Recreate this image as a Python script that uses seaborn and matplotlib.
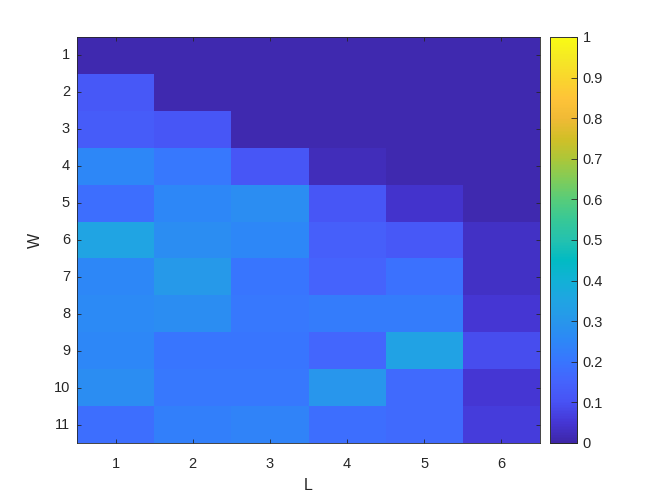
import matplotlib
matplotlib.use("Agg")
import matplotlib.pyplot as plt
import seaborn as sns
import pandas as pd
from matplotlib.colors import LinearSegmentedColormap

# values (rows W = 1..11, columns L = 1..6)
w_labels = [1, 2, 3, 4, 5, 6, 7, 8, 9, 10, 11]
l_labels = [1, 2, 3, 4, 5, 6]
row_w1 = [0.01, 0.01, 0.01, 0.01, 0.01, 0.01]
row_w2 = [0.12, 0.01, 0.01, 0.01, 0.01, 0.01]
row_w3 = [0.13, 0.11, 0.01, 0.01, 0.01, 0.01]
row_w4 = [0.25, 0.21, 0.11, 0.02, 0.01, 0.01]
row_w5 = [0.18, 0.25, 0.27, 0.11, 0.04, 0.01]
row_w6 = [0.35, 0.27, 0.25, 0.14, 0.12, 0.035]
row_w7 = [0.25, 0.31, 0.20, 0.15, 0.19, 0.035]
row_w8 = [0.26, 0.27, 0.21, 0.22, 0.22, 0.05]
row_w9 = [0.25, 0.20, 0.20, 0.16, 0.34, 0.09]
row_w10 = [0.27, 0.21, 0.21, 0.30, 0.17, 0.05]
row_w11 = [0.18, 0.23, 0.24, 0.18, 0.17, 0.06]

# MATLAB parula-like colormap
parula_colors = [
    (0.2422, 0.1504, 0.6603), (0.2706, 0.2147, 0.8364), (0.2810, 0.3228, 0.9579),
    (0.2699, 0.3892, 0.9906), (0.2206, 0.4603, 0.9973), (0.1786, 0.5289, 0.9682),
    (0.1540, 0.5902, 0.9218), (0.1248, 0.6459, 0.8883), (0.0689, 0.6948, 0.8394),
    (0.0067, 0.7312, 0.7660), (0.1408, 0.7584, 0.6842), (0.2161, 0.7843, 0.5923),
    (0.3406, 0.8008, 0.4789), (0.5044, 0.7993, 0.3480), (0.6720, 0.7793, 0.2227),
    (0.8203, 0.7498, 0.1535), (0.9393, 0.7288, 0.2100), (0.9970, 0.7659, 0.2199),
    (0.9786, 0.8386, 0.1766), (0.9597, 0.9135, 0.1423), (0.9769, 0.9839, 0.0805),
]
parula = LinearSegmentedColormap.from_list("parula", parula_colors, N=256)

df = pd.DataFrame(
    [row_w1, row_w2, row_w3, row_w4, row_w5, row_w6,
     row_w7, row_w8, row_w9, row_w10, row_w11],
    index=w_labels, columns=l_labels,
)

sns.set_style("white")
plt.rcParams["font.family"] = ["Liberation Sans", "DejaVu Sans"]

W, H = 664, 498
fig = plt.figure(figsize=(6.64, 4.98), dpi=100)
ax = fig.add_axes([77 / W, 1 - 443 / H, (540 - 77) / W, (443 - 37) / H])
cax = fig.add_axes([550 / W, 1 - 443 / H, 27 / W, (443 - 37) / H])

sns.heatmap(df, ax=ax, cbar_ax=cax, cmap=parula, vmin=0, vmax=1,
            cbar_kws={"ticks": [i / 10 for i in range(11)]})

edge = "#262626"
for a in (ax, cax):
    a.set_axisbelow(False)
    for s in a.spines.values():
        s.set_visible(True)
        s.set_color(edge)
        s.set_linewidth(0.6)
for side in ("left", "top"):
    cax.spines[side].set_color("#8c8c8c")

ax.tick_params(axis="both", direction="in", length=3, width=0.6, color=edge,
               bottom=True, left=True, top=True, right=True,
               labelsize=10.5, labelcolor=edge)
ax.tick_params(axis="x", pad=10)
ax.tick_params(axis="y", pad=5)
ax.set_yticklabels(w_labels, rotation=0)
ax.set_xticklabels(l_labels, rotation=0)
ax.set_xlabel("L", fontsize=11.5, color=edge, labelpad=5)
ax.set_ylabel("W", fontsize=11.5, color=edge, labelpad=8)

cax.tick_params(axis="y", direction="in", length=4, width=0.6, color=edge,
                right=True, labelsize=10.5, labelcolor=edge, pad=4)
cax.set_yticklabels(["0", "0.1", "0.2", "0.3", "0.4", "0.5",
                     "0.6", "0.7", "0.8", "0.9", "1"])

fig.savefig("out.png", dpi=100)
